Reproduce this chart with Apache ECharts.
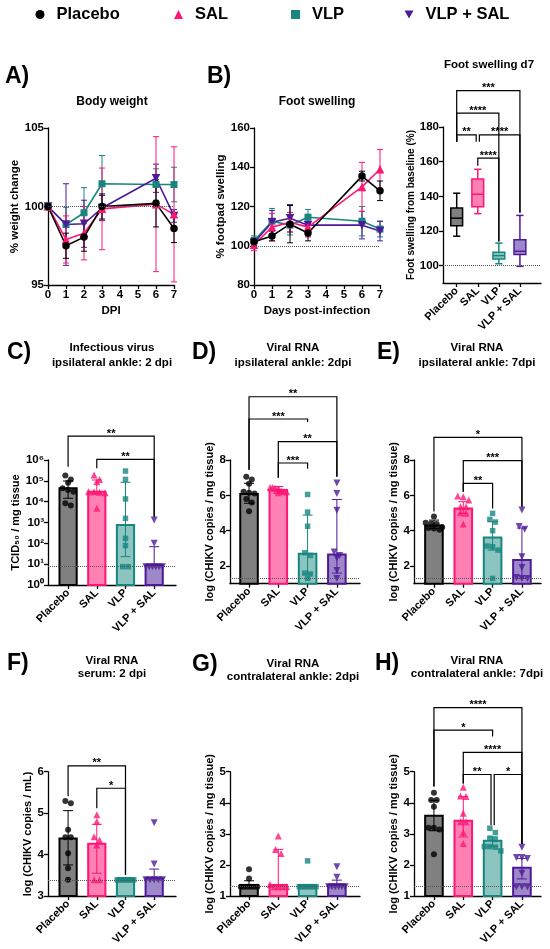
<!DOCTYPE html>
<html>
<head>
<meta charset="utf-8">
<script src="https://cdn.jsdelivr.net/npm/echarts@6/dist/echarts.min.js"></script>
<style>
  html, body { margin: 0; padding: 0; background: #fff; }
  #chart { width: 550px; height: 949px; }
</style>
</head>
<body>
<div id="chart"></div>
<script>
var groups = ['Placebo', 'SAL', 'VLP', 'VLP + SAL'];

// A) body weight, % change (mean, SD)
var days = [0, 1, 2, 3, 6, 7];
var weightMean = [
    [100, 97.5, 98.05, 100, 100.2, 98.6],
    [100, 97.9, 98.3, 99.85, 100.15, 99.5],
    [100, 98.85, 99.6, 101.45, 101.4, 101.4],
    [100, 98.85, 98.9, 99.9, 101.8, 99.4]
];
var weightSd = [
    [0, 0.8, 0.9, 0.8, 1.5, 0.9],
    [0, 1.5, 1.7, 2.6, 4.3, 4.3],
    [0, 1.1, 1.6, 1.8, 1.0, 1.1],
    [0, 2.6, 1.5, 0.8, 0.9, 0.4]
];

// B) foot swelling, % footpad (mean, SD)
var footMean = [
    [102, 105, 111, 106.5, 135.5, 128],
    [100.5, 109.5, 112, 109.5, 130, 139],
    [102.5, 112.5, 110.5, 114.5, 112.5, 108.5],
    [101.5, 112, 114, 110.5, 110.5, 107.5]
];
var footSd = [
    [2, 2.5, 9.5, 4, 2.5, 5],
    [3, 7, 5, 5, 12.5, 10],
    [2.5, 6.5, 5, 4, 7.5, 4],
    [2, 6, 7, 5.5, 7, 5]
];

// B) day 7: min, q1, median, q3, max
var boxStats = [
    [117, 123, 127.4, 133.2, 141.8],
    [130, 134, 141.2, 150, 155.6],
    [101.1, 103.8, 105.8, 107.7, 113],
    [99.6, 106.5, 108.3, 115, 129]
];
// brackets: group a, group b, height, leg end a, leg end b, label
var boxBrackets = [
    [0, 3, 201, 171.5, 130.5, '***'],
    [0, 2, 188, 171.5, 114, '****'],
    [0, 1, 175.5, 171.5, 171.5, '**'],
    [1, 3, 175.5, 171.5, 130.5, '****'],
    [1, 2, 162, 157.6, 114, '****']
];

// C) infectious virus, TCID50 / mg
var cBars = [44000, 30000, 760, 9.1];
var cLo = [14500, 25000, 23, 9.1];
var cHi = [98000, 110000, 85000, 69];
var cPoints = [
    [178000, 117000, 81000, 44000, 36000, 30000, 8300, 6500],
    [190000, 117000, 91000, 30000, 30000, 28000, 27000, 4800],
    [295000, 117000, 13500, 1580, 174, 78, 7.6, 7.6],
    [1320, 100, 7.6, 7.6, 7.6, 7.6, 7.6, 7.6]
];
var cBrackets = [
    [0, 3, 14000000, 480000, 1900, '**'],
    [1, 3, 1070000, 400000, 1900, '**']
];

// D) viral RNA ipsilateral 2 dpi
var dBars = [6.07, 6.3, 2.7, 2.65];
var dLo = [5.55, 6.1, 1.55, 1.6];
var dHi = [6.68, 6.5, 4.88, 5.77];
var dPoints = [
    [7.05, 6.9, 6.65, 6.2, 6.15, 6.1, 5.8, 5.6, 5.1],
    [6.45, 6.45, 6.4, 6.35, 6.3, 6.25, 6.2, 6.2, 6.15],
    [6.05, 5.05, 4.25, 2.75, 2.6, 1.6, 1.55, 1.3],
    [6.7, 6.1, 5.15, 2.8, 2.6, 2.45, 1.75, 1.3]
];
var dBrackets = [
    [0, 3, 11.58, 7.45, 7.05, '**'],
    [0, 2, 10.32, 7.45, 10.15, '***'],
    [1, 3, 9.04, 7.0, 7.05, '**'],
    [1, 2, 7.83, 7.0, 7.5, '***']
];

// E) viral RNA ipsilateral 7 dpi
var eBars = [4.3, 5.26, 3.62, 2.34];
var eLo = [4.13, 4.98, 2.9, 1.3];
var eHi = [4.6, 5.64, 4.51, 4.15];
var ePoints = [
    [4.8, 4.45, 4.4, 4.38, 4.2, 4.15, 4.13, 4.05],
    [5.96, 5.92, 5.74, 5.36, 5.36, 5.02, 4.98, 4.38],
    [4.98, 4.64, 4.49, 4.0, 3.13, 3.09, 2.9, 1.3],
    [5.17, 4.23, 4.08, 2.53, 1.92, 1.35, 1.3, 1.3]
];
var eBrackets = [
    [0, 3, 9.28, 5.08, 5.36, '*'],
    [1, 3, 7.96, 6.2, 5.36, '***'],
    [1, 2, 6.68, 6.2, 5.26, '**']
];

// F) viral RNA serum 2 dpi
var fBars = [4.39, 4.26, 3.42, 3.43];
var fLo = [3.75, 3.55, 3.42, 3.43];
var fHi = [5.06, 4.73, 3.42, 3.65];
var fPoints = [
    [5.29, 5.24, 4.6, 4.42, 4.42, 4.03, 3.67, 3.39],
    [4.96, 4.8, 4.43, 4.35, 4.23, 3.39, 3.39],
    [3.39, 3.39, 3.39, 3.39, 3.39, 3.39, 3.39],
    [4.77, 3.77, 3.39, 3.39, 3.39, 3.39, 3.39]
];
var fBrackets = [
    [0, 2, 6.14, 5.41, 3.51, '**'],
    [1, 2, 5.6, 5.12, 3.51, '*']
];

// G) viral RNA contralateral 2 dpi
var gBars = [1.35, 1.35, 1.35, 1.36];
var gLo = [1.35, 1.35, 1.35, 1.36];
var gHi = [1.49, 2.5, 1.35, 1.51];
var gPoints = [
    [1.86, 1.56, 1.3, 1.3, 1.3, 1.3, 1.3, 1.3],
    [2.93, 2.5, 2.37, 1.37, 1.3, 1.3, 1.3, 1.3],
    [2.13, 1.3, 1.3, 1.3, 1.3, 1.3, 1.3, 1.3],
    [1.94, 1.6, 1.3, 1.3, 1.3, 1.3, 1.3, 1.3]
];

// H) viral RNA contralateral 7 dpi
var hBars = [3.58, 3.42, 2.78, 1.91];
var hLo = [3.1, 2.9, 2.6, 1.55];
var hHi = [4.08, 4.2, 2.9, 2.21];
var hPoints = [
    [4.32, 4.09, 4.09, 3.87, 3.2, 3.2, 3.14, 2.34],
    [4.5, 4.22, 4.2, 3.66, 3.39, 3.39, 3.04, 2.69],
    [3.18, 3.04, 2.86, 2.82, 2.59, 2.59, 2.57, 2.45],
    [2.57, 2.24, 2.24, 2.21, 1.73, 1.3, 1.3, 1.3]
];
var hBrackets = [
    [0, 3, 7.06, 4.52, 2.67, '****'],
    [0, 2, 6.34, 4.52, 6.13, '*'],
    [1, 3, 5.62, 4.62, 2.67, '****'],
    [1, 2, 4.91, 4.62, 3.28, '**'],
    [2, 3, 4.91, 3.28, 2.67, '*']
];

var FONT = '"Liberation Sans", Arial, Helvetica, sans-serif';
var dark = ['#000000', '#ff1675', '#17867f', '#4e1a99'];
var light = ['#808080', '#ff80b3', '#8cc5c0', '#9e88c9'];
var symbols = ['circle', 'triangle', 'rect', 'triangle'];
var symRot = [0, 0, 0, 180];
var symSize = [6, 7, 5.5, 7];
var sup = ['\u2070', '\u00b9', '\u00b2', '\u00b3', '\u2074', '\u2075', '\u2076'];

var layout = {
    A: { left: 48, top: 128, width: 126, height: 157 },
    B: { left: 254, top: 128, width: 126, height: 157 },
    box: { left: 443, top: 127, width: 98, height: 156, xmin: -0.65, xmax: 4.0 },
    C: { left: 48, top: 460, width: 128, height: 125, xmin: -0.7, xmax: 3.76 },
    D: { left: 230, top: 460, width: 130, height: 123.7, xmin: -0.65, xmax: 3.79 },
    E: { left: 414, top: 460, width: 127, height: 123.7, xmin: -0.68, xmax: 3.65 },
    F: { left: 48, top: 771.7, width: 128, height: 124.3, xmin: -0.7, xmax: 3.76 },
    G: { left: 230, top: 771.7, width: 130, height: 124.3, xmin: -0.65, xmax: 3.79 },
    H: { left: 414, top: 771.7, width: 127, height: 124.3, xmin: -0.68, xmax: 3.65 }
};

var grids = [], xAxes = [], yAxes = [], series = [];

function addGrid(l) {
    grids.push({ left: l.left, top: l.top, width: l.width, height: l.height });
    return grids.length - 1;
}

function baseAxis(gi) {
    return {
        gridIndex: gi,
        axisLine: { onZero: false, lineStyle: { color: '#000', width: 1.3 } },
        axisTick: { length: 4, lineStyle: { color: '#000', width: 1.3 } },
        axisLabel: { fontFamily: FONT, fontWeight: 'bold', fontSize: 11.5, color: '#000', margin: 4 },
        splitLine: { show: false },
        nameLocation: 'middle',
        nameTextStyle: { fontFamily: FONT, fontWeight: 'bold', fontSize: 11, color: '#000' }
    };
}

function groupXAxis(gi, l) {
    var ax = baseAxis(gi);
    ax.type = 'value';
    ax.min = l.xmin;
    ax.max = l.xmax;
    ax.axisTick.customValues = [0, 1, 2, 3];
    ax.axisLabel.customValues = [0, 1, 2, 3];
    ax.axisLabel.rotate = 45;
    ax.axisLabel.fontSize = 11;
    ax.axisLabel.margin = 6;
    ax.axisLabel.formatter = function (v) { return groups[Math.round(v)]; };
    return ax;
}

function valueYAxis(gi, o) {
    var ax = baseAxis(gi);
    ax.type = o.log ? 'log' : 'value';
    if (o.log) ax.logBase = 10;
    ax.min = o.min;
    ax.max = o.max;
    if (o.interval) ax.interval = o.interval;
    if (o.ticks) {
        ax.axisTick.customValues = o.ticks;
        ax.axisLabel.customValues = o.ticks;
    }
    if (o.formatter) ax.axisLabel.formatter = o.formatter;
    ax.name = o.name;
    ax.nameGap = o.nameGap;
    if (o.nameSize) ax.nameTextStyle.fontSize = o.nameSize;
    return ax;
}

function dotted(value) {
    return {
        silent: true, symbol: 'none', label: { show: false },
        lineStyle: { type: 'dotted', color: '#555', width: 1 },
        emphasis: { disabled: true },
        data: [{ yAxis: value }]
    };
}

function seg(x1, y1, x2, y2, color, w) {
    return { type: 'line', shape: { x1: x1, y1: y1, x2: x2, y2: y2 }, style: { stroke: color, lineWidth: w || 1 } };
}

// points at nearly the same height sit side by side
function swarm(vals, tol) {
    var idx = vals.map(function (v, i) { return i; }).sort(function (a, b) { return vals[b] - vals[a]; });
    var off = [], row = [];
    function flush() {
        var n = row.length, step = n > 4 ? 3 / (n - 1) : 1;
        row.forEach(function (k, j) { off[k] = (j - (n - 1) / 2) * step; });
        row = [];
    }
    idx.forEach(function (k) {
        if (row.length && vals[row[0]] - vals[k] > tol) flush();
        row.push(k);
    });
    flush();
    return off;
}

function bracketSeries(gi, list) {
    return {
        type: 'custom', xAxisIndex: gi, yAxisIndex: gi, z: 5, silent: true, clip: false,
        data: list.map(function (b) { return [b[0], b[2]]; }),
        renderItem: function (params, api) {
            var b = list[params.dataIndex];
            var pa = api.coord([b[0], b[2]]), pb = api.coord([b[1], b[2]]);
            var x1 = pa[0], x2 = pb[0], yTop = pa[1];
            var y1 = api.coord([b[0], b[3]])[1], y2 = api.coord([b[1], b[4]])[1];
            list.forEach(function (o) {
                if (o !== b && o[2] === b[2]) {
                    if (o[1] === b[0]) x1 += 1.6;
                    if (o[0] === b[1]) x2 -= 1.6;
                }
            });
            return {
                type: 'group',
                children: [
                    { type: 'polyline', shape: { points: [[x1, y1], [x1, yTop], [x2, yTop], [x2, y2]] },
                      style: { stroke: '#000', lineWidth: 1.2, fill: 'none' } },
                    { type: 'text', x: (x1 + x2) / 2, y: yTop + 3,
                      style: { text: b[5], align: 'center', verticalAlign: 'bottom', textAlign: 'center', textVerticalAlign: 'bottom',
                               fontFamily: FONT, fontWeight: 'bold', fontSize: 11, fill: '#000' } }
                ]
            };
        }
    };
}

function linePanel(l, means, sds, yOpt, xName) {
    var gi = addGrid(l);
    var ax = baseAxis(gi);
    ax.type = 'value'; ax.min = 0; ax.max = 7; ax.interval = 1;
    ax.name = xName; ax.nameGap = 20; ax.nameTextStyle.fontSize = 11.5;
    xAxes.push(ax);
    yAxes.push(valueYAxis(gi, yOpt));
    [2, 3, 1, 0].forEach(function (g, n) {
        series.push({
            type: 'custom', xAxisIndex: gi, yAxisIndex: gi, z: 2, silent: true,
            data: days.map(function (d, k) { return [d, means[g][k], sds[g][k]]; }),
            renderItem: function (params, api) {
                var x = api.value(0), m = api.value(1), s = api.value(2);
                if (!s) return;
                var t = api.coord([x, m + s]), b = api.coord([x, m - s]);
                return { type: 'group', children: [
                    seg(t[0], t[1], b[0], b[1], dark[g]),
                    seg(t[0] - 3, t[1], t[0] + 3, t[1], dark[g]),
                    seg(b[0] - 3, b[1], b[0] + 3, b[1], dark[g])
                ] };
            }
        });
        var s = {
            type: 'line', name: groups[g], xAxisIndex: gi, yAxisIndex: gi, z: 3,
            data: days.map(function (d, k) { return [d, means[g][k]]; }),
            symbol: symbols[g], symbolRotate: symRot[g], symbolSize: symSize[g] + 1.5,
            lineStyle: { color: dark[g], width: 1.6 },
            itemStyle: { color: dark[g], borderWidth: 0 },
            emphasis: { disabled: true }
        };
        if (n === 0) s.markLine = dotted(100);
        series.push(s);
    });
}

function boxPanel(l) {
    var gi = addGrid(l);
    xAxes.push(groupXAxis(gi, l));
    yAxes.push(valueYAxis(gi, { min: 90, max: 180, ticks: [100, 120, 140, 160, 180],
        name: 'Foot swelling from baseline (%)', nameGap: 25, nameSize: 10 }));
    series.push({
        type: 'custom', xAxisIndex: gi, yAxisIndex: gi, z: 3, silent: true,
        data: boxStats.map(function (s, i) { return [i].concat(s); }),
        markLine: dotted(100),
        renderItem: function (params, api) {
            var i = api.value(0), c = dark[i];
            var lo = api.coord([i, api.value(1)]), q1 = api.coord([i - 0.28, api.value(2)]);
            var md = api.coord([i, api.value(3)]), q3 = api.coord([i + 0.28, api.value(4)]);
            var hi = api.coord([i, api.value(5)]);
            var cw = api.size([0.34, 0])[0] / 2;
            return { type: 'group', children: [
                seg(lo[0], lo[1], lo[0], q1[1], c, 1.5),
                seg(hi[0], hi[1], hi[0], q3[1], c, 1.5),
                seg(lo[0] - cw, lo[1], lo[0] + cw, lo[1], c, 1.5),
                seg(hi[0] - cw, hi[1], hi[0] + cw, hi[1], c, 1.5),
                { type: 'rect', shape: { x: q1[0], y: q3[1], width: q3[0] - q1[0], height: q1[1] - q3[1] },
                  style: { fill: light[i], stroke: c, lineWidth: 1.5 } },
                seg(q1[0], md[1], q3[0], md[1], c, 1.5)
            ] };
        }
    });
    series.push(bracketSeries(gi, boxBrackets));
}

function barPanel(l, yOpt, bars, lo, hi, pts, brackets, lod) {
    var gi = addGrid(l);
    xAxes.push(groupXAxis(gi, l));
    yAxes.push(valueYAxis(gi, yOpt));
    var base = yOpt.min;
    series.push({
        type: 'custom', xAxisIndex: gi, yAxisIndex: gi, z: 2, silent: true,
        data: bars.map(function (v, i) { return [i, v]; }),
        renderItem: function (params, api) {
            var i = api.value(0);
            var a = api.coord([i - 0.3, api.value(1)]), b = api.coord([i + 0.3, base]);
            return { type: 'rect', shape: { x: a[0], y: a[1], width: b[0] - a[0], height: b[1] - a[1] },
                     style: { fill: light[i], stroke: dark[i], lineWidth: 2 } };
        }
    });
    series.push({
        type: 'custom', xAxisIndex: gi, yAxisIndex: gi, z: 3, silent: true,
        data: bars.map(function (v, i) { return [i, v, lo[i], hi[i]]; }),
        renderItem: function (params, api) {
            var i = api.value(0), v = api.value(1), l0 = api.value(2), h0 = api.value(3);
            var pv = api.coord([i, v]), pl = api.coord([i, l0]), ph = api.coord([i, h0]);
            var cw = 5, ch = [];
            if (h0 > v) {
                ch.push(seg(pv[0], pv[1], ph[0], ph[1], dark[i]));
                ch.push(seg(ph[0] - cw, ph[1], ph[0] + cw, ph[1], dark[i]));
            }
            if (l0 < v) {
                ch.push(seg(pv[0], pv[1], pl[0], pl[1], dark[i]));
                ch.push(seg(pl[0] - cw, pl[1], pl[0] + cw, pl[1], dark[i]));
            }
            return { type: 'group', children: ch };
        }
    });
    var range = yOpt.log ? Math.log10(yOpt.max / yOpt.min) : yOpt.max - yOpt.min;
    var tol = 5 * range / l.height;
    var data = [];
    pts.forEach(function (vals, g) {
        var off = swarm(vals.map(function (v) { return yOpt.log ? Math.log10(v) : v; }), tol);
        vals.forEach(function (v, k) {
            data.push({
                value: [g, v],
                symbol: symbols[g], symbolRotate: symRot[g], symbolSize: symSize[g],
                symbolOffset: [off[k] * 5.5, 0],
                itemStyle: { color: dark[g] }
            });
        });
    });
    series.push({
        type: 'scatter', xAxisIndex: gi, yAxisIndex: gi, z: 4, silent: true,
        data: data, markLine: dotted(lod)
    });
    if (brackets) series.push(bracketSeries(gi, brackets));
}

var rnaName = 'log (CHIKV copies / mg tissue)';

linePanel(layout.A, weightMean, weightSd,
    { min: 95, max: 105, interval: 5, name: '% weight change', nameGap: 24, nameSize: 11.5 }, 'DPI');
linePanel(layout.B, footMean, footSd,
    { min: 80, max: 160, interval: 20, name: '% footpad swelling', nameGap: 26, nameSize: 11.5 }, 'Days post-infection');
boxPanel(layout.box);

barPanel(layout.C, { log: true, min: 1, max: 1000000, name: 'TCID\u2085\u2080 / mg tissue', nameGap: 22,
    formatter: function (v) { return '10' + sup[Math.round(Math.log10(v))]; } },
    cBars, cLo, cHi, cPoints, cBrackets, 7.6);
barPanel(layout.D, { min: 1, max: 8, ticks: [2, 4, 6, 8], name: rnaName, nameGap: 12 },
    dBars, dLo, dHi, dPoints, dBrackets, 1.3);
barPanel(layout.E, { min: 1, max: 8, ticks: [2, 4, 6, 8], name: rnaName, nameGap: 8 },
    eBars, eLo, eHi, ePoints, eBrackets, 1.3);
barPanel(layout.F, { min: 3, max: 6, interval: 1, name: 'log (CHIKV copies / mL)', nameGap: 12 },
    fBars, fLo, fHi, fPoints, fBrackets, 3.38);
barPanel(layout.G, { min: 1, max: 5, interval: 1, name: rnaName, nameGap: 12 },
    gBars, gLo, gHi, gPoints, null, 1.3);
barPanel(layout.H, { min: 1, max: 5, interval: 1, name: rnaName, nameGap: 12 },
    hBars, hLo, hHi, hPoints, hBrackets, 1.3);

// legend across the top
var legendLeft = [30.5, 169, 286, 399.5];
var legendIcons = ['circle', 'triangle', 'rect', 'path://M0,0L10,0L5,9Z'];
var legends = groups.map(function (g, i) {
    return {
        left: legendLeft[i], top: 1, itemWidth: 9, itemHeight: 9, selectedMode: false,
        data: [{ name: g, icon: legendIcons[i] }],
        textStyle: { fontFamily: FONT, fontWeight: 'bold', fontSize: 16.5, color: '#000', padding: [0, 0, 0, 7] }
    };
});

function label(text, x, y) {
    return { type: 'text', x: x, y: y, silent: true,
        style: { text: text, align: 'left', verticalAlign: 'middle', textAlign: 'left', textVerticalAlign: 'middle',
                 fontFamily: FONT, fontWeight: 'bold', fontSize: 23, fill: '#000' } };
}
function heading(text, x, y, lh, size) {
    return { type: 'text', x: x, y: y, silent: true,
        style: { text: text, align: 'center', verticalAlign: 'middle', textAlign: 'center', textVerticalAlign: 'middle',
                 lineHeight: lh, fontFamily: FONT, fontWeight: 'bold', fontSize: size || 11.5, fill: '#000' } };
}

var graphics = [
    label('A)', 5, 77), label('B)', 207, 77),
    label('C)', 7, 353), label('D)', 192, 353), label('E)', 377, 353),
    label('F)', 7, 664), label('G)', 192, 665), label('H)', 375, 664),
    heading('Body weight', 112, 102, 14, 12),
    heading('Foot swelling', 317, 102, 14, 12),
    heading('Foot swelling d7', 489, 65, 14, 11.5),
    heading('Infectious virus\nipsilateral ankle: 2 dpi', 112, 355.5, 15),
    heading('Viral RNA\nipsilateral ankle: 2dpi', 293, 355.5, 15),
    heading('Viral RNA\nipsilateral ankle: 7dpi', 477, 355.5, 15),
    heading('Viral RNA\nserum: 2 dpi', 112, 667, 13),
    heading('Viral RNA\ncontralateral ankle: 2dpi', 293, 670, 13),
    heading('Viral RNA\ncontralateral ankle: 7dpi', 477, 667.5, 13)
];

var chart = echarts.init(document.getElementById('chart'));
chart.setOption({
    animation: false,
    backgroundColor: '#fff',
    legend: legends,
    grid: grids,
    xAxis: xAxes,
    yAxis: yAxes,
    series: series,
    graphic: graphics
});
</script>
</body>
</html>
